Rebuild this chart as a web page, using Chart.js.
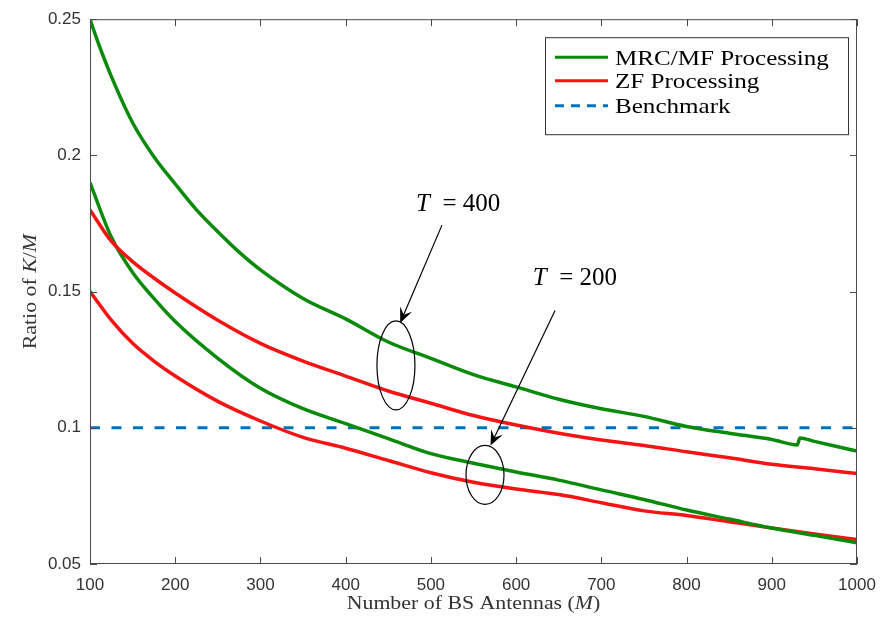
<!DOCTYPE html>
<html>
<head>
<meta charset="utf-8">
<script src="https://cdn.jsdelivr.net/npm/chart.js@4.4.1/dist/chart.umd.min.js"></script>
<style>
  html, body { margin: 0; padding: 0; background: #fff; }
</style>
</head>
<body>
<canvas id="chart" width="891" height="617"></canvas>
<script>
// values (ratio K/M against number of BS antennas M)
const antennas = [100, 125, 150, 175, 200, 250, 300, 350, 400, 450, 500, 550, 600, 650, 700, 750, 800, 850, 900, 950, 1000];
const zfT400  = [0.180, 0.1685, 0.161, 0.155, 0.1495, 0.1395, 0.131, 0.1245, 0.119, 0.1135, 0.109, 0.1045, 0.101, 0.098, 0.0955, 0.0935, 0.0912, 0.089, 0.0866, 0.085, 0.0832];
const mrcT200 = [0.190, 0.170, 0.157, 0.1475, 0.139, 0.1255, 0.1145, 0.107, 0.1015, 0.096, 0.0905, 0.087, 0.0838, 0.0808, 0.0772, 0.0737, 0.0698, 0.0665, 0.0632, 0.0605, 0.0578];
const zfT200  = [0.150, 0.1395, 0.131, 0.1245, 0.119, 0.1097, 0.1025, 0.0965, 0.0925, 0.088, 0.0835, 0.080, 0.0775, 0.0755, 0.0725, 0.0695, 0.0678, 0.0655, 0.0632, 0.061, 0.059];

// the T=400 MRC curve has a small jump near M=930
const mrcT400M = [100, 110, 125, 150, 175, 200, 225, 250, 275, 300, 350, 400, 450, 500, 550, 600, 650, 700, 750, 800, 850, 900, 930, 933, 950, 975, 1000];
const mrcT400  = [0.250, 0.241, 0.229, 0.212, 0.1995, 0.1895, 0.180, 0.172, 0.1645, 0.158, 0.1475, 0.140, 0.1315, 0.1255, 0.1195, 0.115, 0.1105, 0.107, 0.1042, 0.1005, 0.098, 0.0957, 0.0937, 0.0963, 0.095, 0.0932, 0.0915];

const benchmarkM = [100, 1000];
const benchmark  = [0.1, 0.1];

const seriesNames = ['MRC/MF Processing', 'ZF Processing', 'Benchmark'];

const xTicks = [100, 200, 300, 400, 500, 600, 700, 800, 900, 1000];
const xTickLabels = ['100', '200', '300', '400', '500', '600', '700', '800', '900', '1000'];
const yTicks = [0.05, 0.1, 0.15, 0.2, 0.25];
const yTickLabels = ['0.05', '0.1', '0.15', '0.2', '0.25'];

const GREEN = '#0a8a0a';
const RED = '#f51414';
const BLUE = '#0072bd';
const SERIF = '"Liberation Serif", "Times New Roman", serif';
const SANS = '"Liberation Sans", Arial, sans-serif';

function pts(xs, ys) {
    return xs.map((m, i) => ({x: m, y: ys[i]}));
}

function curve(data, color) {
    return {data: data, borderColor: color, borderWidth: 3.5, pointRadius: 0,
            fill: false, cubicInterpolationMode: 'monotone'};
}

function labelFor(ticks, labels, v) {
    return labels[ticks.findIndex(t => Math.abs(t - v) < 1e-9)];
}

// draw text made of upright/italic pieces, a bit widened like the LaTeX font
function drawRich(ctx, parts, x, y, size, sx, align) {
    let total = 0;
    const ws = parts.map(([t, it]) => {
        ctx.font = (it ? 'italic ' : '') + size + 'px ' + SERIF;
        const w = ctx.measureText(t).width;
        total += w;
        return w;
    });
    ctx.save();
    ctx.translate(x, y);
    ctx.scale(sx, 1);
    let cx = align === 'center' ? -total / 2 : 0;
    ctx.textAlign = 'left';
    ctx.textBaseline = 'alphabetic';
    parts.forEach(([t, it], i) => {
        ctx.font = (it ? 'italic ' : '') + size + 'px ' + SERIF;
        ctx.fillText(t, cx, 0);
        cx += ws[i];
    });
    ctx.restore();
}

// T = ... callouts, in data coordinates
const notes = [
    {label: '400', text: {m: 532, v: 0.1795}, from: {m: 513, v: 0.1744}, to: {m: 464, v: 0.1385}, ell: {m: 459, v: 0.1229, rx: 19, ry: 44.5}},
    {label: '200', text: {m: 669, v: 0.1526}, from: {m: 645.7, v: 0.1431}, to: {m: 570, v: 0.0935}, ell: {m: 563.5, v: 0.0827, rx: 19, ry: 29.5}}
];

const decor = {
    id: 'decor',
    afterDraw(chart) {
        const ctx = chart.ctx, a = chart.chartArea;
        const x = chart.scales.x, y = chart.scales.y;
        ctx.save();

        //Axes box and inward tick marks
        ctx.strokeStyle = '#4a4a4a';
        ctx.lineWidth = 1;
        ctx.strokeRect(a.left + 0.5, a.top + 0.5, a.right - a.left - 1, a.bottom - a.top - 1);
        ctx.beginPath();
        xTicks.forEach(v => {
            const px = Math.round(x.getPixelForValue(v)) + 0.5;
            ctx.moveTo(px, a.bottom); ctx.lineTo(px, a.bottom - 7);
            ctx.moveTo(px, a.top); ctx.lineTo(px, a.top + 7);
        });
        yTicks.forEach(v => {
            const py = Math.round(y.getPixelForValue(v)) + 0.5;
            ctx.moveTo(a.left, py); ctx.lineTo(a.left + 7, py);
            ctx.moveTo(a.right, py); ctx.lineTo(a.right - 7, py);
        });
        ctx.stroke();

        //Axis titles
        ctx.fillStyle = '#333';
        drawRich(ctx, [['Number of BS Antennas (', false], ['M', true], [')', false]],
                 (a.left + a.right) / 2, 609, 19, 1.15, 'center');
        ctx.save();
        ctx.translate(36, (a.top + a.bottom) / 2);
        ctx.rotate(-Math.PI / 2);
        drawRich(ctx, [['Ratio of ', false], ['K', true], ['/', false], ['M', true]], 0, 0, 19, 1.15, 'center');
        ctx.restore();

        //Callouts
        ctx.fillStyle = '#000';
        ctx.strokeStyle = '#000';
        notes.forEach(n => {
            const tx = x.getPixelForValue(n.text.m), ty = y.getPixelForValue(n.text.v);
            drawRich(ctx, [['T', true], ['  = ', false], [n.label, false]], tx, ty, 25, 1.0, 'center');

            const x0 = x.getPixelForValue(n.from.m), y0 = y.getPixelForValue(n.from.v);
            const x1 = x.getPixelForValue(n.to.m), y1 = y.getPixelForValue(n.to.v);
            const ang = Math.atan2(y1 - y0, x1 - x0);
            ctx.lineWidth = 1.2;
            ctx.beginPath();
            ctx.moveTo(x0, y0);
            ctx.lineTo(x1 - 8 * Math.cos(ang), y1 - 8 * Math.sin(ang));
            ctx.stroke();
            // arrow head with a notched back
            const L = 15, W = 6.5;
            ctx.beginPath();
            ctx.moveTo(x1, y1);
            ctx.lineTo(x1 - L * Math.cos(ang) + W * Math.sin(ang), y1 - L * Math.sin(ang) - W * Math.cos(ang));
            ctx.lineTo(x1 - 0.6 * L * Math.cos(ang), y1 - 0.6 * L * Math.sin(ang));
            ctx.lineTo(x1 - L * Math.cos(ang) - W * Math.sin(ang), y1 - L * Math.sin(ang) + W * Math.cos(ang));
            ctx.closePath();
            ctx.fill();

            ctx.beginPath();
            ctx.ellipse(x.getPixelForValue(n.ell.m), y.getPixelForValue(n.ell.v), n.ell.rx, n.ell.ry, 0, 0, Math.PI * 2);
            ctx.stroke();
        });

        //Legend box (top right)
        const bw = 303, bh = 97;
        const bx = a.right - 9 - bw, by = a.top + 18;
        ctx.fillStyle = '#fff';
        ctx.fillRect(bx, by, bw, bh);
        ctx.strokeStyle = '#333';
        ctx.lineWidth = 1;
        ctx.strokeRect(bx + 0.5, by + 0.5, bw, bh);
        const rows = [20, 43.5, 68.5];
        const colors = [GREEN, RED, BLUE];
        rows.forEach((r, i) => {
            ctx.strokeStyle = colors[i];
            ctx.lineWidth = 3;
            ctx.setLineDash(i === 2 ? [9, 7] : []);
            ctx.beginPath();
            ctx.moveTo(bx + 10, by + r);
            ctx.lineTo(bx + 63, by + r);
            ctx.stroke();
            ctx.setLineDash([]);
            ctx.fillStyle = '#000';
            drawRich(ctx, [[seriesNames[i], false]], bx + 70, by + r + 7.5, 22, 1.14, 'left');
        });
        ctx.restore();
    }
};

var ctx = document.getElementById('chart');
var chart = new Chart(ctx, {
    type: 'line',
    data: {
        datasets: [
            curve(pts(mrcT400M, mrcT400), GREEN),
            curve(pts(antennas, zfT400), RED),
            curve(pts(antennas, mrcT200), GREEN),
            curve(pts(antennas, zfT200), RED),
            {data: pts(benchmarkM, benchmark), borderColor: BLUE, borderWidth: 3,
             borderDash: [10, 11.5], pointRadius: 0, fill: false}
        ]
    },
    options: {
        responsive: false,
        animation: false,
        layout: {padding: {left: 0, right: 34, top: 14, bottom: 0}},
        plugins: {legend: {display: false}, tooltip: {enabled: false}},
        scales: {
            x: {
                type: 'linear', min: 100, max: 1000,
                grid: {display: false, drawTicks: false},
                border: {display: false},
                ticks: {padding: 11, color: '#333', maxRotation: 0, autoSkip: false,
                        font: {family: SANS, size: 17},
                        callback: v => labelFor(xTicks, xTickLabels, v)},
                afterBuildTicks: s => { s.ticks = xTicks.map(v => ({value: v})); },
                afterFit: s => { s.height = 53; }
            },
            y: {
                type: 'linear', min: 0.05, max: 0.25,
                grid: {display: false, drawTicks: false},
                border: {display: false},
                ticks: {padding: 9, color: '#333',
                        font: {family: SANS, size: 17},
                        callback: v => labelFor(yTicks, yTickLabels, v)},
                afterBuildTicks: s => { s.ticks = yTicks.map(v => ({value: v})); },
                afterFit: s => { s.width = 90; }
            }
        }
    },
    plugins: [decor]
});
</script>
</body>
</html>
